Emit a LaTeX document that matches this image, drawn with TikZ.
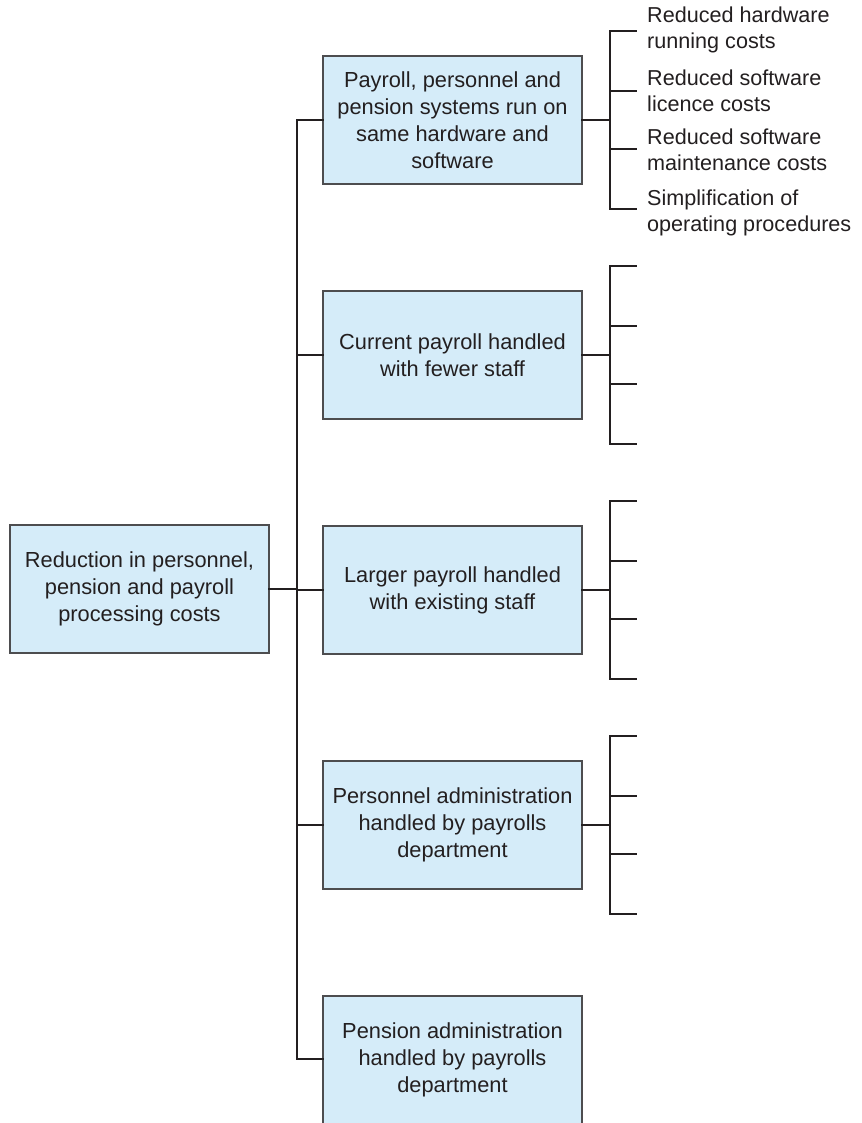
\documentclass[tikz,border=0pt]{standalone}
\usepackage{fontspec}
\setmainfont{Liberation Sans}
\usetikzlibrary{calc}
\definecolor{boxfill}{HTML}{D5ECF9}
\definecolor{boxline}{HTML}{4D4D4F}
\definecolor{ink}{HTML}{231F20}
\tikzset{
  box/.style={draw=boxline, fill=boxfill, line width=1.5pt, minimum width=259pt, minimum height=128pt,
    inner sep=0pt, align=center, text=ink, font=\fontsize{21.8}{27}\selectfont},
  leaf/.style={anchor=west, inner sep=0pt, align=left, text=ink, font=\fontsize{21.6}{26.5}\selectfont},
  conn/.style={draw=ink, line width=2.7pt, line cap=rect},
}
\begin{document}
\begin{tikzpicture}[x=1pt,y=-1pt]
\useasboundingbox (0,0) rectangle (861,1123);
\fill[white] (0,0) rectangle (861,1123);
% root
\node[box] (root) at (139.5,589) {Reduction in personnel,\\pension and payroll\\processing costs};
% level 2
\node[box] (b1) at (452.5,120) {Payroll, personnel and\\pension systems run on\\same hardware and\\software};
\node[box] (b2) at (452.5,355) {Current payroll handled\\with fewer staff};
\node[box] (b3) at (452.5,590) {Larger payroll handled\\with existing staff};
\node[box] (b4) at (452.5,825) {Personnel administration\\handled by payrolls\\department};
\node[box, minimum height=136pt] (b5) at (452.5,1064) {};
\node[text=ink, align=center, font=\fontsize{21.8}{27}\selectfont] (b5t) at (452.5,1060) {Pension administration\\handled by payrolls\\department};
% trunk
\coordinate (ttop) at (297,120);
\coordinate (tbot) at (297,1059);
\draw[conn] (ttop) -- (tbot);
\draw[conn] (root.east) -- (root.east -| ttop);
\draw[conn] (ttop) -- (b1.west);
\draw[conn] (b2.west -| ttop) -- (b2.west);
\draw[conn] (b3.west -| ttop) -- (b3.west);
\draw[conn] (b4.west -| ttop) -- (b4.west);
\draw[conn] (tbot) -- (tbot -| b5.west);
% brackets
\foreach \b/\y in {b1/120, b2/355, b3/590, b4/825} {
  \coordinate (\b k) at (610,\y);
  \coordinate (\b s1) at (636,\y-89);
  \coordinate (\b s2) at (636,\y-29);
  \coordinate (\b s3) at (636,\y+29);
  \coordinate (\b s4) at (636,\y+89);
  \draw[conn] (\b.east) -- (\b k);
  \draw[conn] (\b s1) -- (\b s1 -| \b k) -- (\b s4 -| \b k) -- (\b s4);
  \draw[conn] (\b s2 -| \b k) -- (\b s2);
  \draw[conn] (\b s3 -| \b k) -- (\b s3);
}
% leaves
\node[leaf] (l1) at (647,30) {Reduced hardware\\running costs};
\node[leaf] (l2) at (647,91) {Reduced software\\licence costs};
\node[leaf] (l3) at (647,150) {Reduced software\\maintenance costs};
\node[leaf] (l4) at (647,213) {Simplification of\\operating procedures};
\end{tikzpicture}
\end{document}
